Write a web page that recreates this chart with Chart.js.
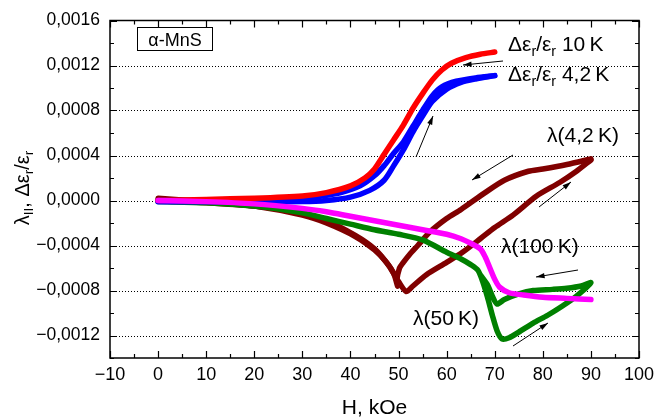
<!DOCTYPE html>
<html>
<head>
<meta charset="utf-8">
<script src="https://cdn.jsdelivr.net/npm/chart.js@4.4.1/dist/chart.umd.min.js"></script>
<style>
  html, body { margin: 0; padding: 0; background: #fff; }
  canvas { display: block; }
</style>
</head>
<body>
<canvas id="chart" width="670" height="417"></canvas>
<script>
// --- data (H in kOe) ---
const xTickValues = [-10, 0, 10, 20, 30, 40, 50, 60, 70, 80, 90, 100];
const yTickValues = [-0.0012, -0.0008, -0.0004, 0, 0.0004, 0.0008, 0.0012, 0.0016];

// Δε/ε at 10 K (red)
const eps10K_H = [0, 10, 20, 30, 35, 40, 43, 45, 47, 49, 51, 53, 55, 57, 59, 61, 64, 67, 70];
const eps10K_v = [0, 0.00001, 0.00002, 0.00004, 0.00007, 0.00013, 0.0002, 0.00028, 0.00041, 0.00054, 0.00067, 0.00082, 0.00095, 0.00107, 0.00116, 0.00122, 0.00127, 0.0013, 0.00132];

// Δε/ε at 4,2 K (blue), field up then field down
const eps4K_up_H = [0, 10, 20, 30, 35, 40, 44, 47, 49, 51, 53, 55, 57, 60, 63, 66, 70];
const eps4K_up_v = [-0.00001, -0.00001, -0.00001, -0.00001, 0, 0.00003, 0.00009, 0.00018, 0.00031, 0.00045, 0.00061, 0.00075, 0.00088, 0.00099, 0.00105, 0.00108, 0.00111];
const eps4K_down_H = [70, 66, 62, 59, 57, 55, 53, 51, 49, 47, 45, 42, 38, 34, 30, 20, 10, 0];
const eps4K_down_v = [0.00111, 0.00109, 0.00106, 0.00101, 0.00093, 0.0008, 0.00066, 0.00052, 0.00042, 0.00031, 0.00022, 0.00013, 0.00007, 0.00004, 0.00002, 0.00001, 0, 0];

// λ at 100 K (magenta)
const lam100K_H = [0, 10, 20, 30, 35, 40, 45, 50, 55, 60, 63, 65, 67, 68, 69, 70, 71, 73, 76, 80, 85, 90];
const lam100K_v = [0, -0.00001, -0.00003, -0.00007, -0.0001, -0.00014, -0.00018, -0.00022, -0.00026, -0.0003, -0.00034, -0.00038, -0.00043, -0.0005, -0.0006, -0.0007, -0.00077, -0.00082, -0.00084, -0.00086, -0.00087, -0.00088];

// λ at 50 K (green), up to 90 kOe and back
const lam50K_H = [0, 10, 20, 30, 35, 40, 45, 50, 55, 60, 63, 65, 66.5, 67.5, 68.5, 69.5, 70.5, 71.5, 73, 75, 78, 81, 84, 87, 90,
                  88, 85, 82, 78, 75, 72, 70.5, 69.5, 68.5, 67];
const lam50K_v = [-0.00001, -0.00002, -0.00005, -0.00011, -0.00016, -0.00021, -0.00026, -0.0003, -0.00035, -0.00046, -0.00052, -0.00057, -0.00062, -0.00072, -0.00086, -0.00102, -0.00116, -0.00123, -0.00122, -0.00117, -0.00109, -0.00102, -0.00094, -0.00085, -0.00073,
                  -0.00076, -0.00078, -0.00079, -0.0008, -0.00083, -0.00088, -0.00092, -0.00085, -0.00075, -0.00066];

// λ at 4,2 K (dark red), up to 90 kOe and back
const lam4K_up_H = [0, 10, 20, 27, 35, 41, 45, 48, 50, 51.6, 53, 55.8, 60, 63.3, 67, 70, 73.8, 78.7, 83.5, 87, 90];
const lam4K_up_v = [0, -0.00002, -0.00005, -0.00009, -0.00018, -0.00031, -0.00043, -0.00058, -0.00072, -0.00081, -0.00076, -0.00066, -0.00055, -0.00046, -0.00034, -0.00024, -0.00013, 0.00004, 0.00016, 0.00026, 0.00036];
const lam4K_down_H = [90, 85, 80, 77, 72, 68, 63, 60, 56.5, 54, 52.3, 51, 50.2, 49.6, 49.8, 49, 47.5, 45, 41, 35, 30, 20, 10, 0];
const lam4K_down_v = [0.00037, 0.00032, 0.00028, 0.00026, 0.00018, 0.00007, -0.00008, -0.00016, -0.00028, -0.0004, -0.00048, -0.00055, -0.0006, -0.00072, -0.00076, -0.00065, -0.00055, -0.00044, -0.00032, -0.0002, -0.00013, -0.00005, -0.00001, 0.00002];

const FONT = '"Liberation Sans", Arial, sans-serif';

function pts(hs, vs) {
    return hs.map((h, i) => ({ x: h, y: vs[i] }));
}

function curve(data, color) {
    return {
        data: data,
        showLine: true,
        borderColor: color,
        backgroundColor: color,
        borderWidth: 5.5,
        pointRadius: 0,
        tension: 0.25,
        borderCapStyle: 'round',
        borderJoinStyle: 'round'
    };
}

function minusFmt(v, digits) {
    return (v < 0 ? '\u2212' : '') + Math.abs(v).toFixed(digits).replace('.', ',');
}

// draws a run of text pieces, some as subscripts
function drawRich(ctx, parts, x, y, size) {
    let cx = x;
    parts.forEach(p => {
        const s = p.sub ? size * 0.68 : size;
        ctx.font = s + 'px ' + FONT;
        ctx.fillText(p.t, cx, p.sub ? y + size * 0.22 : y);
        cx += ctx.measureText(p.t).width;
    });
    return cx - x;
}

function richWidth(ctx, parts, size) {
    let w = 0;
    parts.forEach(p => {
        ctx.font = (p.sub ? size * 0.68 : size) + 'px ' + FONT;
        w += ctx.measureText(p.t).width;
    });
    return w;
}

function arrow(ctx, x1, y1, x2, y2) {
    const a = Math.atan2(y2 - y1, x2 - x1);
    ctx.beginPath();
    ctx.moveTo(x1, y1);
    ctx.lineTo(x2, y2);
    ctx.stroke();
    ctx.beginPath();
    ctx.moveTo(x2, y2);
    ctx.lineTo(x2 - 9 * Math.cos(a - 0.3), y2 - 9 * Math.sin(a - 0.3));
    ctx.lineTo(x2 - 9 * Math.cos(a + 0.3), y2 - 9 * Math.sin(a + 0.3));
    ctx.closePath();
    ctx.fill();
}

const framePlugin = {
    id: 'frame',
    beforeDatasetsDraw(chart) {
        // dotted horizontal grid at the labelled y values
        const { ctx, chartArea: a, scales } = chart;
        ctx.save();
        ctx.strokeStyle = '#000';
        ctx.lineWidth = 1;
        ctx.setLineDash([1, 2]);
        yTickValues.forEach(v => {
            const py = Math.round(scales.y.getPixelForValue(v)) + 0.5;
            if (py < a.top + 2) return;
            ctx.beginPath();
            ctx.moveTo(a.left, py);
            ctx.lineTo(a.right, py);
            ctx.stroke();
        });
        ctx.restore();
    },
    afterDraw(chart) {
        const { ctx, chartArea: a, scales } = chart;
        const xs = scales.x, ys = scales.y;
        ctx.save();
        ctx.strokeStyle = '#000';
        ctx.fillStyle = '#000';

        // inward ticks on all four sides
        ctx.lineWidth = 1.2;
        for (let h = -10; h <= 100; h += 5) {
            const px = Math.round(xs.getPixelForValue(h)) + 0.5;
            const len = h % 10 === 0 ? 7 : 4;
            ctx.beginPath();
            ctx.moveTo(px, a.bottom); ctx.lineTo(px, a.bottom - len);
            ctx.moveTo(px, a.top); ctx.lineTo(px, a.top + len);
            ctx.stroke();
        }
        for (let k = -7; k <= 8; k++) {
            const py = Math.round(ys.getPixelForValue(k * 0.0002)) + 0.5;
            const len = k % 2 === 0 ? 7 : 4;
            ctx.beginPath();
            ctx.moveTo(a.left, py); ctx.lineTo(a.left + len, py);
            ctx.moveTo(a.right, py); ctx.lineTo(a.right - len, py);
            ctx.stroke();
        }
        ctx.lineWidth = 1.5;
        ctx.strokeRect(a.left, a.top, a.right - a.left, a.bottom - a.top);

        // axis titles
        ctx.textBaseline = 'alphabetic';
        ctx.font = '21px ' + FONT;
        ctx.textAlign = 'center';
        ctx.fillText('H, kOe', (a.left + a.right) / 2, 414);

        ctx.textAlign = 'left';
        const yTitle = [
            { t: 'λ' }, { t: 'II', sub: true }, { t: ', Δε' }, { t: 'r', sub: true }, { t: '/ε' }, { t: 'r', sub: true }
        ];
        const tw = richWidth(ctx, yTitle, 20);
        ctx.save();
        ctx.translate(29, 188);
        ctx.rotate(-Math.PI / 2);
        drawRich(ctx, yTitle, -tw / 2, 0, 20);
        ctx.restore();

        // sample label box
        ctx.lineWidth = 1;
        ctx.strokeRect(137.5, 27.5, 75, 23);
        ctx.font = '18px ' + FONT;
        ctx.textAlign = 'center';
        ctx.fillText('α-MnS', 175, 45.5);

        // curve labels
        ctx.textAlign = 'left';
        drawRich(ctx, [{ t: 'Δε' }, { t: 'r', sub: true }, { t: '/ε' }, { t: 'r', sub: true }, { t: ' 10\u2009K' }], 508, 51, 21);
        drawRich(ctx, [{ t: 'Δε' }, { t: 'r', sub: true }, { t: '/ε' }, { t: 'r', sub: true }, { t: ' 4,2\u2009K' }], 508, 81, 21);
        ctx.font = '21px ' + FONT;
        ctx.fillText('λ(4,2\u2009K)', 547, 142);
        ctx.fillText('λ(100\u2009K)', 501, 253);
        ctx.fillText('λ(50\u2009K)', 413, 325);

        // direction arrows
        ctx.lineWidth = 1;
        arrow(ctx, 503, 61, 463, 65);
        arrow(ctx, 416, 157, 433, 116);
        arrow(ctx, 513, 155, 472, 180);
        arrow(ctx, 539, 207, 571, 182);
        arrow(ctx, 578, 270, 536, 277);
        arrow(ctx, 513, 346, 548, 323);

        ctx.restore();
    }
};

new Chart(document.getElementById('chart'), {
    type: 'scatter',
    data: {
        datasets: [
            curve(pts(lam100K_H, lam100K_v), '#ff00ff'),
            curve(pts(eps10K_H, eps10K_v), '#ff0000'),
            curve(pts(eps4K_up_H, eps4K_up_v), '#0000ff'),
            curve(pts(eps4K_down_H, eps4K_down_v), '#0000ff'),
            curve(pts(lam50K_H, lam50K_v), '#008000'),
            curve(pts(lam4K_up_H, lam4K_up_v), '#800000'),
            curve(pts(lam4K_down_H, lam4K_down_v), '#800000')
        ]
    },
    options: {
        responsive: false,
        animation: false,
        devicePixelRatio: 1,
        layout: { padding: { top: 15, right: 31, left: 0, bottom: 0 } },
        plugins: {
            legend: { display: false },
            tooltip: { enabled: false }
        },
        scales: {
            x: {
                type: 'linear',
                min: -10,
                max: 100,
                afterBuildTicks: s => { s.ticks = xTickValues.map(v => ({ value: v })); },
                afterFit: s => { s.height = 59; },
                grid: { display: false, drawTicks: false },
                border: { display: false },
                ticks: {
                    color: '#000',
                    padding: 6,
                    maxRotation: 0,
                    font: { family: FONT, size: 18 },
                    callback: v => minusFmt(v, 0)
                }
            },
            y: {
                type: 'linear',
                min: -0.0014,
                max: 0.0016,
                afterBuildTicks: s => { s.ticks = yTickValues.map(v => ({ value: v })); },
                afterFit: s => { s.width = 110; },
                grid: { display: false, drawTicks: false },
                border: { display: false },
                ticks: {
                    color: '#000',
                    padding: 10,
                    font: { family: FONT, size: 17.5 },
                    callback: v => minusFmt(v, 4)
                }
            }
        }
    },
    plugins: [framePlugin]
});
</script>
</body>
</html>
